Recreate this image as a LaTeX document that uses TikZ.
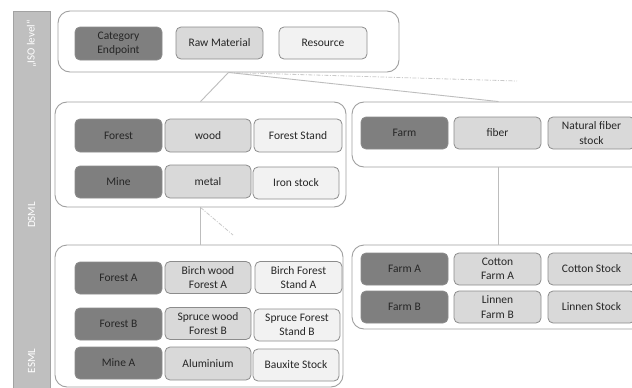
\documentclass[tikz,border=0pt]{standalone}
\usepackage{fontspec}
\setmainfont{Carlito}
\definecolor{boxdark}{HTML}{7F7F7F}
\definecolor{boxmid}{HTML}{D9D9D9}
\definecolor{boxlight}{HTML}{F2F2F2}
\definecolor{boxedge}{HTML}{8C8C8C}
\definecolor{groupedge}{HTML}{A0A0A0}
\definecolor{linkgray}{HTML}{BDBDBD}
\definecolor{bargray}{HTML}{BFBFBF}
\definecolor{txt}{HTML}{262626}
\tikzset{
  cell/.style={draw=boxedge, line width=0.8pt, rounded corners=5pt, align=center,
    inner sep=0pt, text=txt, font=\fontsize{11.5}{14.5}\selectfont,
    minimum width=87pt, minimum height=32pt},
  dark/.style={cell, fill=boxdark},
  mid/.style={cell, fill=boxmid},
  light/.style={cell, fill=boxlight},
  group/.style={draw=groupedge, line width=0.9pt, rounded corners=12pt, fill=white, inner sep=0pt},
  link/.style={draw=linkgray, line width=0.9pt},
  faintlink/.style={draw=linkgray!80, line width=0.8pt, dash pattern=on 4pt off 1.5pt on 1pt off 1.5pt},
  barlabel/.style={text=white, rotate=90, font=\fontsize{11}{13}\selectfont, inner sep=0pt}
}
\begin{document}
\begin{tikzpicture}[x=1pt, y=-1pt]
\useasboundingbox (0,0) rectangle (632,388);
\clip (0,0) rectangle (632,388);
\fill[white] (0,0) rectangle (632,388);

% level bar on the left
\node[fill=bargray, draw=bargray!85!black, line width=0.6pt, minimum width=37pt, minimum height=380pt, inner sep=0pt] (bar) at (31.5,201) {};
\node[barlabel] (isolbl) at (31.5,44) {„ISO level“};
\node[barlabel] (dsmllbl) at (31.5,215) {DSML};
\node[barlabel] (esmllbl) at (31.5,361) {ESML};

% group frames
\node[group, minimum width=341pt, minimum height=61pt] (iso) at (228.5,41.5) {};
\node[group, minimum width=291pt, minimum height=105pt] (dsmlL) at (200.5,154.5) {};
\node[group, minimum width=293pt, minimum height=65pt] (dsmlR) at (498.5,134.5) {};
\node[group, minimum width=288pt, minimum height=142pt] (esmlL) at (199,316) {};
\node[group, minimum width=293pt, minimum height=84pt] (esmlR) at (498.5,287) {};

% connectors between the levels
\coordinate (isoTail) at (517,81);
\coordinate (dsmlTail) at (233,235);
\draw[faintlink] (iso.south) -- (isoTail);
\draw[link] (iso.south) -- (dsmlL.north);
\draw[link] (iso.south) -- (dsmlR.north);
\draw[faintlink] (dsmlL.south) -- (dsmlTail);
\draw[link] (dsmlL.south) -- (dsmlL.south |- esmlL.north);
\draw[link] (dsmlR.south) -- (esmlR.north);

% ISO level
\node[dark, minimum height=33pt] (ce) at (118.5,43.5) {Category\\Endpoint};
\node[mid] (rm) at (219.5,43) {Raw Material};
\node[light, minimum width=88pt] (res) at (323,43) {Resource};

% DSML, left group
\node[dark, minimum height=33pt] (forest) at (118.5,135.5) {Forest};
\node[mid, minimum width=86pt, minimum height=33pt] (wood) at (208,135.5) {wood};
\node[light, minimum width=88pt, minimum height=33pt] (fstand) at (298,135.5) {Forest Stand};
\node[dark] (mine) at (118.5,182) {Mine};
\node[mid, minimum width=86pt, minimum height=33pt] (metal) at (208,181.5) {metal};
\node[light, minimum width=86pt] (iron) at (296,183) {Iron stock};

% DSML, right group
\node[dark] (farm) at (404.5,133) {Farm};
\node[mid] (fiber) at (497.5,133) {fiber};
\node[mid] (natfib) at (591.5,133) {Natural fiber\\stock};

% ESML, left group
\node[dark] (forestA) at (118.5,278) {Forest A};
\node[mid, minimum width=86pt] (birch) at (208,277.5) {Birch wood\\Forest A};
\node[light] (birchst) at (298.5,277.5) {Birch Forest\\Stand A};
\node[dark] (forestB) at (118.5,324) {Forest B};
\node[mid, minimum width=86pt] (spruce) at (208,323.5) {Spruce wood\\Forest B};
\node[light, minimum width=86pt] (sprucest) at (297,325) {Spruce Forest\\Stand B};
\node[dark] (mineA) at (118.5,363) {Mine A};
\node[mid, minimum width=86pt, minimum height=33pt] (alu) at (208,363.5) {Aluminium};
\node[light, minimum width=86pt] (bauxite) at (296,365) {Bauxite Stock};

% ESML, right group
\node[dark] (farmA) at (404.5,269) {Farm A};
\node[mid] (cotton) at (497.5,269) {Cotton\\Farm A};
\node[mid] (cottonst) at (591.5,269) {Cotton Stock};
\node[dark] (farmB) at (404.5,307) {Farm B};
\node[mid] (linnen) at (497.5,307) {Linnen\\Farm B};
\node[mid] (linnenst) at (591.5,307) {Linnen Stock};
\end{tikzpicture}
\end{document}
